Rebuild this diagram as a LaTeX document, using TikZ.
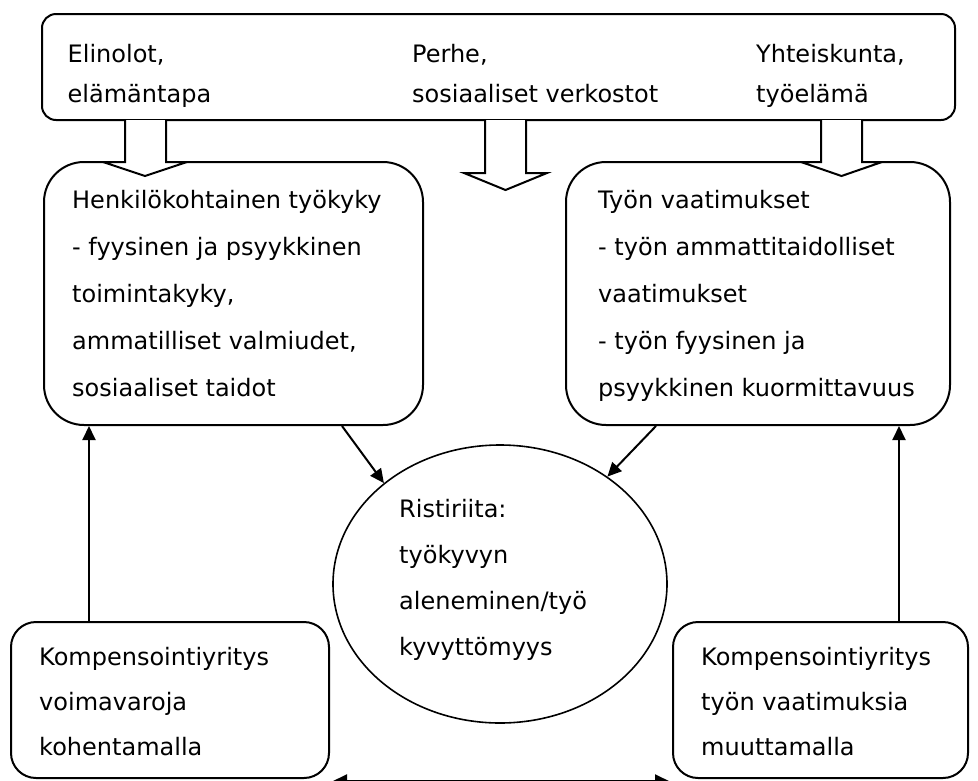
\documentclass[tikz,border=0pt]{standalone}
\usepackage{fontspec}
\setmainfont{DejaVu Sans}
\usetikzlibrary{arrows.meta,shapes.geometric}
\begin{document}
\begin{tikzpicture}[x=1pt,y=-1pt,
  lw/.style={line width=2pt},
  box/.style={draw,lw,inner sep=0pt,fill=white},
  txt/.style={anchor=base west,inner sep=0pt,font=\fontsize{24}{28}\selectfont},
  arr/.style={lw,-{Triangle[length=14pt,width=13pt]}},
  barrow/.style={draw,lw,fill=white,line join=miter}
]
\useasboundingbox (0,0) rectangle (978,780);
\begin{scope}
\clip (0,0) rectangle (978,780);
% boxes
\node[box,rounded corners=14pt,minimum width=913pt,minimum height=106pt] (top) at (498.5,67) {};
\node[box,rounded corners=40pt,minimum width=379pt,minimum height=263pt] (hk) at (233.5,293.5) {};
\node[box,rounded corners=40pt,minimum width=384pt,minimum height=263pt] (tv) at (758,293.5) {};
\node[box,ellipse,line width=1.6pt,minimum width=334pt,minimum height=278pt] (ell) at (500,584) {};
\node[box,rounded corners=25pt,minimum width=318pt,minimum height=156pt] (lb) at (170,700) {};
\node[box,rounded corners=25pt,minimum width=295pt,minimum height=156pt] (rb) at (820.5,700) {};
% block arrows
\draw[barrow] (125,120) -- (125,162) -- (103,162) -- (145,176) -- (187,162) -- (166,162) -- (166,120);
\draw[barrow] (485,120) -- (485,173) -- (464,173) -- (505.5,190) -- (547,173) -- (526,173) -- (526,120);
\draw[barrow] (821,120) -- (821,162) -- (801,162) -- (841.5,176) -- (882,162) -- (862,162) -- (862,120);
% connectors
\draw[arr] ([xshift=79pt]lb.north west) -- ([xshift=46pt]hk.south west);
\draw[arr] ([xshift=227pt]rb.north west) -- ([xshift=334pt]tv.south west);
\draw[arr] ([xshift=299pt]hk.south west) -- (ell.139);
\draw[arr] ([xshift=91pt]tv.south west) -- (ell.45);
\draw[lw,{Triangle[length=14pt,width=13pt]}-{Triangle[length=14pt,width=13pt]}] ([shift={(3pt,-2pt)}]lb.south east) -- ([shift={(-3pt,-2pt)}]rb.south west);
\end{scope}
% texts
\node[txt] (t1) at (67.5,62) {Elinolot,};
\node[txt] (t2) at (67.5,102) {elämäntapa};
\node[txt] (t3) at (412,62) {Perhe,};
\node[txt] (t4) at (412,102) {sosiaaliset verkostot};
\node[txt] (t5) at (756,62) {Yhteiskunta,};
\node[txt] (t6) at (756,102) {työelämä};
\node[txt] (h1) at (72,208) {Henkilökohtainen työkyky};
\node[txt] (h2) at (72,255) {- fyysinen ja psyykkinen};
\node[txt] (h3) at (72,302) {toimintakyky,};
\node[txt] (h4) at (72,349) {ammatilliset valmiudet,};
\node[txt] (h5) at (72,396) {sosiaaliset taidot};
\node[txt] (v1) at (598,208) {Työn vaatimukset};
\node[txt] (v2) at (598,255) {- työn ammattitaidolliset};
\node[txt] (v3) at (598,302) {vaatimukset};
\node[txt] (v4) at (598,349) {- työn fyysinen ja};
\node[txt] (v5) at (598,396) {psyykkinen kuormittavuus};
\node[txt] (e1) at (399,517) {Ristiriita:};
\node[txt] (e2) at (399,563) {työkyvyn};
\node[txt] (e3) at (399,609) {aleneminen/työ};
\node[txt] (e4) at (399,655) {kyvyttömyys};
\node[txt] (l1) at (39,665) {Kompensointiyritys};
\node[txt] (l2) at (39,710) {voimavaroja};
\node[txt] (l3) at (39,755) {kohentamalla};
\node[txt] (r1) at (701,665) {Kompensointiyritys};
\node[txt] (r2) at (701,710) {työn vaatimuksia};
\node[txt] (r3) at (701,755) {muuttamalla};
\end{tikzpicture}
\end{document}
